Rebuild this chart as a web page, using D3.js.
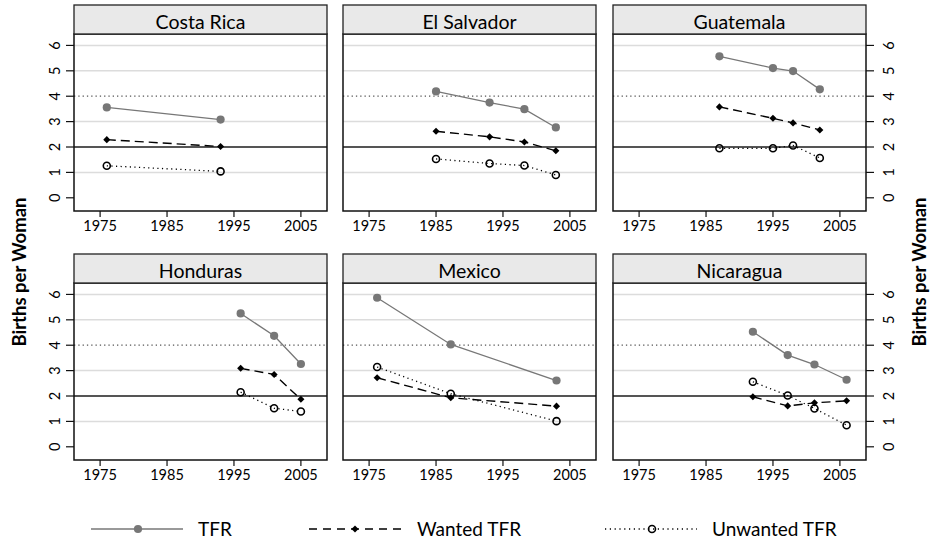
<!DOCTYPE html>
<html>
<head>
<meta charset="utf-8">
<script src="https://cdn.jsdelivr.net/npm/d3@7/dist/d3.min.js"></script>
<style>
  html, body { margin: 0; padding: 0; background: #fff; }
  svg { display: block; font-family: Lato, "Open Sans", sans-serif; }
</style>
</head>
<body>
<svg id="chart" width="933" height="543"></svg>
<script>
// Fertility survey results by country
const countries = ["Costa Rica", "El Salvador", "Guatemala", "Honduras", "Mexico", "Nicaragua"];
const surveyYears = [
  [1976, 1993],
  [1985, 1993, 1998.2, 2002.9],
  [1987, 1995, 1998, 2002],
  [1996, 2001, 2005],
  [1976.2, 1987.2, 2003],
  [1992, 1997.2, 2001.2, 2006]
];
const tfr = [
  [3.56, 3.08],
  [4.19, 3.75, 3.49, 2.77],
  [5.57, 5.11, 4.99, 4.27],
  [5.25, 4.37, 3.26],
  [5.87, 4.03, 2.61],
  [4.53, 3.61, 3.24, 2.64]
];
const wantedTfr = [
  [2.29, 2.02],
  [2.62, 2.40, 2.20, 1.85],
  [3.58, 3.13, 2.95, 2.67],
  [3.09, 2.85, 1.87],
  [2.72, 1.93, 1.60],
  [1.97, 1.61, 1.73, 1.81]
];
const unwantedTfr = [
  [1.26, 1.04],
  [1.53, 1.35, 1.27, 0.90],
  [1.95, 1.95, 2.06, 1.57],
  [2.15, 1.52, 1.39],
  [3.14, 2.09, 1.01],
  [2.56, 2.02, 1.51, 0.85]
];
const xTicks = [1975, 1985, 1995, 2005];
const yTicks = [0, 1, 2, 3, 4, 5, 6];
const gridValues = [1, 3, 5, 6];
const replacementLevel = 2;
const highFertilityLevel = 4;
const seriesNames = ["TFR", "Wanted TFR", "Unwanted TFR"];
const yLabel = "Births per Woman";

// Layout
const colLeft = [74, 343, 613];
const panelW = 253;
const stripTop = [5, 254];
const stripH = 29;
const plotH = 177;

const x = d3.scaleLinear().domain([1971.1, 2008.9]).range([0, panelW]);
const y = d3.scaleLinear().domain([-0.52, 6.45]).range([plotH, 0]);

const svg = d3.select("#chart");

const seriesStyle = [
  { values: tfr, stroke: "#777", width: 1.3, dash: null },
  { values: wantedTfr, stroke: "#000", width: 1.4, dash: "9,5" },
  { values: unwantedTfr, stroke: "#000", width: 1.3, dash: "1.2,3.4" }
];

function drawMarker(g, kind, cx, cy) {
  if (kind === 0) {
    g.append("circle").attr("cx", cx).attr("cy", cy).attr("r", 4.1).attr("fill", "#777");
  } else if (kind === 1) {
    g.append("path")
      .attr("d", d3.symbol(d3.symbolDiamond2, 32)())
      .attr("transform", `translate(${cx},${cy})`)
      .attr("fill", "#000");
  } else {
    g.append("circle").attr("cx", cx).attr("cy", cy).attr("r", 3.5)
      .attr("fill", "none").attr("stroke", "#000").attr("stroke-width", 1.6);
  }
}

countries.forEach((name, i) => {
  const col = i % 3, row = Math.floor(i / 3);
  const left = colLeft[col];
  const top = stripTop[row] + stripH;
  const panel = svg.append("g").attr("transform", `translate(${left},${top})`);

  // strip
  svg.append("rect")
    .attr("x", left).attr("y", stripTop[row]).attr("width", panelW).attr("height", stripH)
    .attr("fill", "#e9e9e9").attr("stroke", "#222").attr("stroke-width", 1.3);
  svg.append("text")
    .attr("x", left + panelW / 2).attr("y", stripTop[row] + stripH - 5)
    .attr("text-anchor", "middle").attr("font-size", 19.5).attr("fill", "#000")
    .text(name);

  // gridlines
  panel.selectAll("line.grid").data(gridValues).enter().append("line")
    .attr("x1", 0).attr("x2", panelW)
    .attr("y1", d => y(d)).attr("y2", d => y(d))
    .attr("stroke", "#dcdcdc").attr("stroke-width", 1.5);
  panel.append("line")
    .attr("x1", 0).attr("x2", panelW)
    .attr("y1", y(highFertilityLevel)).attr("y2", y(highFertilityLevel))
    .attr("stroke", "#555").attr("stroke-width", 1.3).attr("stroke-dasharray", "1.3,3");
  panel.append("line")
    .attr("x1", 0).attr("x2", panelW)
    .attr("y1", y(replacementLevel)).attr("y2", y(replacementLevel))
    .attr("stroke", "#555").attr("stroke-width", 2);

  // series lines and markers
  seriesStyle.forEach((s) => {
    const pts = surveyYears[i].map((yr, j) => [yr, s.values[i][j]]);
    const line = d3.line().x(d => x(d[0])).y(d => y(d[1]));
    const path = panel.append("path").attr("d", line(pts))
      .attr("fill", "none").attr("stroke", s.stroke).attr("stroke-width", s.width);
    if (s.dash) path.attr("stroke-dasharray", s.dash);
  });
  seriesStyle.forEach((s, k) => {
    surveyYears[i].forEach((yr, j) => drawMarker(panel, k, x(yr), y(s.values[i][j])));
  });

  // panel border
  panel.append("rect").attr("x", 0).attr("y", 0).attr("width", panelW).attr("height", plotH)
    .attr("fill", "none").attr("stroke", "#111").attr("stroke-width", 1.5);

  // x axis
  const xa = panel.append("g").attr("transform", `translate(0,${plotH})`);
  xTicks.forEach(t => {
    xa.append("line").attr("x1", x(t)).attr("x2", x(t)).attr("y1", 0).attr("y2", 6)
      .attr("stroke", "#111").attr("stroke-width", 1.2);
    xa.append("text").attr("x", x(t)).attr("y", 20).attr("text-anchor", "middle")
      .attr("font-size", 14.5).attr("fill", "#000").text(t);
  });

  // y axis on outer columns
  if (col === 0 || col === 2) {
    const side = col === 0 ? -1 : 1;
    const x0 = col === 0 ? 0 : panelW;
    yTicks.forEach(t => {
      panel.append("line").attr("x1", x0).attr("x2", x0 + side * 8)
        .attr("y1", y(t)).attr("y2", y(t)).attr("stroke", "#111").attr("stroke-width", 1.2);
      const cx = x0 + side * (col === 0 ? 19 : 23);
      panel.append("text")
        .attr("transform", `translate(${cx},${y(t)}) rotate(-90)`)
        .attr("text-anchor", "middle").attr("dy", "0.36em")
        .attr("font-size", 14.5).attr("fill", "#000").text(t);
    });
  }
});

// axis titles on both sides
[[19, 272], [919, 272]].forEach(([cx, cy]) => {
  svg.append("text")
    .attr("transform", `translate(${cx},${cy}) rotate(-90)`)
    .attr("text-anchor", "middle").attr("dy", "0.36em")
    .attr("font-size", 18.5).attr("font-weight", "bold").attr("fill", "#000")
    .text(yLabel);
});

// legend
const legendY = 529;
const legendItems = [
  { x1: 91, x2: 183, mx: 138, tx: 198 },
  { x1: 309, x2: 405, mx: 355, tx: 417 },
  { x1: 605, x2: 697, mx: 652, tx: 712 }
];
const legendDash = [null, "8,6", "1.2,3.6"];
legendItems.forEach((it, k) => {
  const s = seriesStyle[k];
  const ln = svg.append("line").attr("x1", it.x1).attr("x2", it.x2)
    .attr("y1", legendY).attr("y2", legendY)
    .attr("stroke", s.stroke).attr("stroke-width", s.width);
  if (legendDash[k]) ln.attr("stroke-dasharray", legendDash[k]);
  drawMarker(svg, k, it.mx, legendY);
  svg.append("text").attr("x", it.tx).attr("y", legendY + 7)
    .attr("font-size", 19).attr("fill", "#000").text(seriesNames[k]);
});
</script>
</body>
</html>
